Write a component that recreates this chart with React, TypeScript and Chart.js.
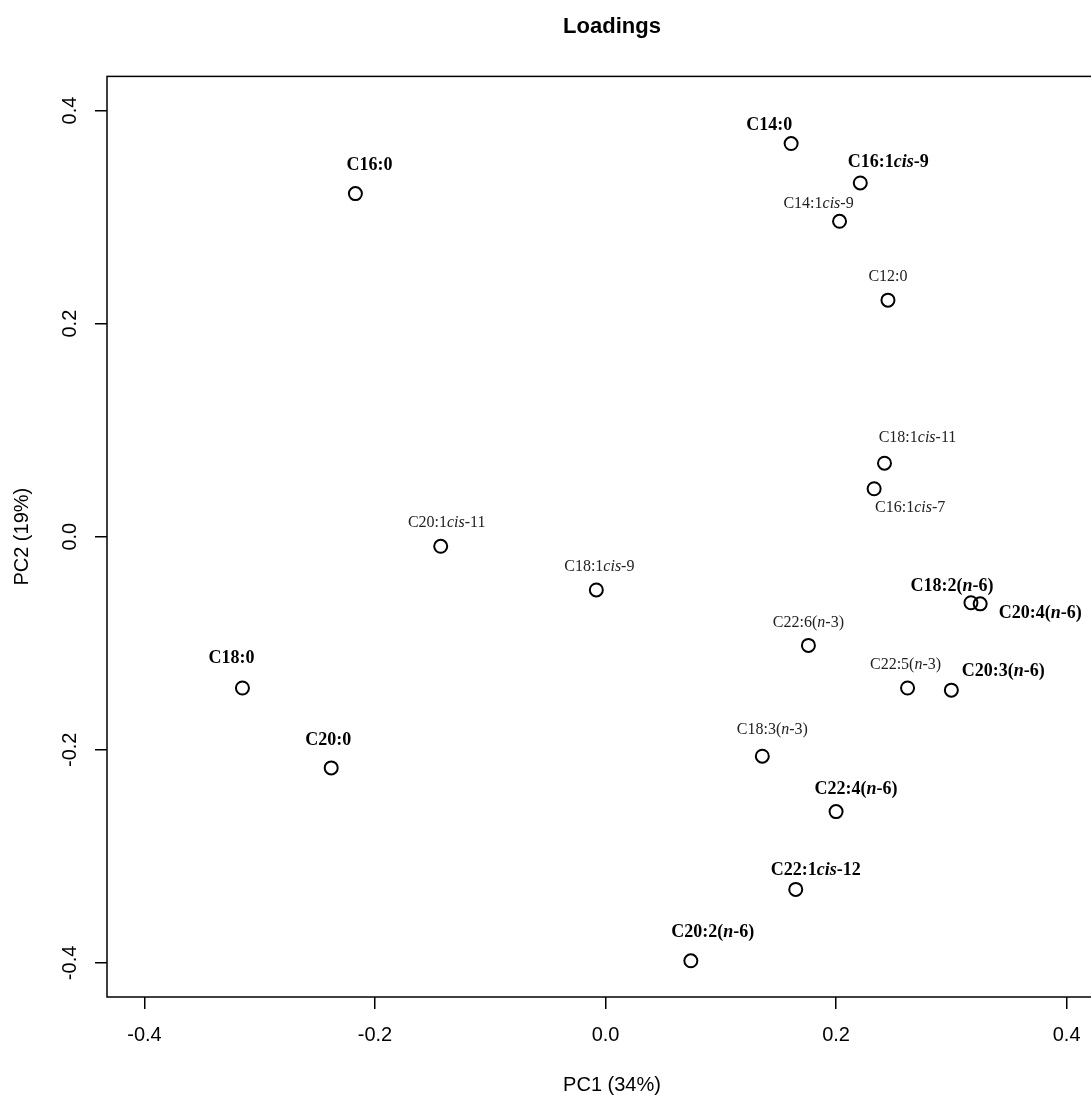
import React, { useEffect, useRef } from 'react';
import { Chart, registerables } from 'chart.js';

Chart.register(...registerables);

// ---- data ----
// labels: text between underscores is italic
const fattyAcids = [
  'C14:0', 'C16:1_cis_-9', 'C14:1_cis_-9', 'C12:0', 'C16:0',
  'C18:1_cis_-11', 'C16:1_cis_-7', 'C20:1_cis_-11', 'C18:1_cis_-9', 'C18:2(_n_-6)',
  'C20:4(_n_-6)', 'C22:6(_n_-3)', 'C22:5(_n_-3)', 'C20:3(_n_-6)', 'C18:0',
  'C20:0', 'C18:3(_n_-3)', 'C22:4(_n_-6)', 'C22:1_cis_-12', 'C20:2(_n_-6)',
];
const pc1Loadings = [
  0.161, 0.221, 0.203, 0.245, -0.217,
  0.242, 0.233, -0.143, -0.008, 0.317,
  0.325, 0.176, 0.262, 0.300, -0.315,
  -0.238, 0.136, 0.200, 0.165, 0.074,
];
const pc2Loadings = [
  0.369, 0.332, 0.296, 0.222, 0.322,
  0.069, 0.045, -0.009, -0.050, -0.062,
  -0.063, -0.102, -0.142, -0.144, -0.142,
  -0.217, -0.206, -0.258, -0.331, -0.398,
];
const boldLabel = [
  true, true, false, false, true,
  false, false, false, false, true,
  true, false, false, true, true,
  true, false, true, true, true,
];
const xTickValues = [-0.4, -0.2, 0.0, 0.2, 0.4];
const yTickValues = [-0.4, -0.2, 0.0, 0.2, 0.4];
const xAxisMin = -0.4325;
const xAxisMax = 0.4437;
const yAxisMin = -0.432;
const yAxisMax = 0.432;
const chartTitle = 'Loadings';
const xAxisTitle = 'PC1 (34%)';
const yAxisTitle = 'PC2 (19%)';

// ---- label placement (pixels relative to point) ----
const labelDx = [
  -22, 28, -21, 0, 14,
  33, 36, 6, 3, -19,
  60, 0, -2, 52, -11,
  -3, 10, 20, 20, 22,
];
const labelDy = [
  -18, -21, -18, -23, -28,
  -25, 19, -23, -23, -16,
  10, -23, -23, -19, -30,
  -28, -26, -22, -19, -28,
];

const SANS = '"Liberation Sans", Arial, Helvetica, sans-serif';
const SERIF = '"Liberation Serif", "Times New Roman", Times, serif';

function parseLabel(s: string) {
  const parts = s.split('_');
  return parts.map((t, i) => ({ text: t, italic: i % 2 === 1 })).filter((p) => p.text.length > 0);
}

const labelPlugin = {
  id: 'pointLabels',
  afterDatasetsDraw(chart: any) {
    const ctx = chart.ctx;
    const meta = chart.getDatasetMeta(0);
    ctx.save();
    ctx.textBaseline = 'middle';
    ctx.textAlign = 'left';
    meta.data.forEach((pt: any, i: number) => {
      const bold = boldLabel[i];
      const size = bold ? 18 : 16;
      const segs = parseLabel(fattyAcids[i]);
      const fontFor = (it: boolean) => `${it ? 'italic ' : ''}${bold ? 'bold ' : ''}${size}px ${SERIF}`;
      let total = 0;
      const widths = segs.map((sg) => {
        ctx.font = fontFor(sg.italic);
        const w = ctx.measureText(sg.text).width;
        total += w;
        return w;
      });
      let x = pt.x + labelDx[i] - total / 2;
      const y = pt.y + labelDy[i];
      ctx.fillStyle = bold ? '#000000' : '#222222';
      segs.forEach((sg, k) => {
        ctx.font = fontFor(sg.italic);
        ctx.fillText(sg.text, x, y);
        x += widths[k];
      });
    });
    ctx.restore();
  },
};

const boxPlugin = {
  id: 'plotBox',
  afterDraw(chart: any) {
    const { left, top, right, bottom } = chart.chartArea;
    const ctx = chart.ctx;
    ctx.save();
    ctx.strokeStyle = '#000000';
    ctx.lineWidth = 1.5;
    ctx.strokeRect(left, top, right - left, bottom - top);
    ctx.restore();
  },
};

export default function App() {
  const ref = useRef<HTMLCanvasElement | null>(null);
  useEffect(() => {
    if (!ref.current) return;
    const chart = new Chart(ref.current, {
      type: 'scatter',
      data: {
        datasets: [
          {
            data: pc1Loadings.map((x, i) => ({ x, y: pc2Loadings[i] })),
            pointRadius: 6.5,
            pointHoverRadius: 6.5,
            pointBorderWidth: 2,
            pointBorderColor: '#000000',
            pointBackgroundColor: 'rgba(0,0,0,0)',
            showLine: false,
          },
        ],
      },
      plugins: [labelPlugin, boxPlugin],
      options: {
        animation: false,
        responsive: false,
        devicePixelRatio: 1,
        layout: { padding: { left: 0, right: 16, top: 0, bottom: 0 } },
        plugins: {
          legend: { display: false },
          tooltip: { enabled: false },
          title: {
            display: true,
            text: chartTitle,
            fullSize: false,
            color: '#000000',
            font: { family: SANS, size: 22, weight: 'bold' },
            padding: { top: 14, bottom: 36 },
          },
        },
        scales: {
          x: {
            type: 'linear',
            min: xAxisMin,
            max: xAxisMax,
            afterBuildTicks: (scale: any) => {
              scale.ticks = xTickValues.map((v) => ({ value: v }));
            },
            afterFit: (scale: any) => {
              scale.height = 100;
            },
            border: { display: false },
            grid: {
              drawOnChartArea: false,
              drawTicks: true,
              tickLength: 12,
              color: '#000000',
              lineWidth: 1.5,
            },
            ticks: {
              color: '#000000',
              font: { family: SANS, size: 20 },
              padding: 14,
              maxRotation: 0,
              minRotation: 0,
              callback: (v: any) => Number(v).toFixed(1),
            },
            title: {
              display: true,
              text: xAxisTitle,
              color: '#000000',
              font: { family: SANS, size: 20 },
              padding: { top: 0, bottom: 0 },
            },
          },
          y: {
            type: 'linear',
            min: yAxisMin,
            max: yAxisMax,
            afterBuildTicks: (scale: any) => {
              scale.ticks = yTickValues.map((v) => ({ value: v }));
            },
            afterFit: (scale: any) => {
              scale.width = 107;
            },
            border: { display: false },
            grid: {
              drawOnChartArea: false,
              drawTicks: true,
              tickLength: 12,
              color: '#000000',
              lineWidth: 1.5,
            },
            ticks: {
              color: '#000000',
              font: { family: SANS, size: 20 },
              padding: 7,
              crossAlign: 'center',
              minRotation: 90,
              maxRotation: 90,
              callback: (v: any) => Number(v).toFixed(1),
            },
            title: {
              display: true,
              text: yAxisTitle,
              color: '#000000',
              font: { family: SANS, size: 20 },
              padding: { top: 10, bottom: 0 },
            },
          },
        },
      },
    });
    return () => chart.destroy();
  }, []);

  return (
    <div
      style={{
        position: 'absolute',
        left: 0,
        top: 0,
        width: 1091,
        height: 1097,
        overflow: 'hidden',
        background: '#ffffff',
      }}
    >
      <canvas ref={ref} width={1133} height={1097} style={{ display: 'block', width: 1133, height: 1097 }} />
    </div>
  );
}
